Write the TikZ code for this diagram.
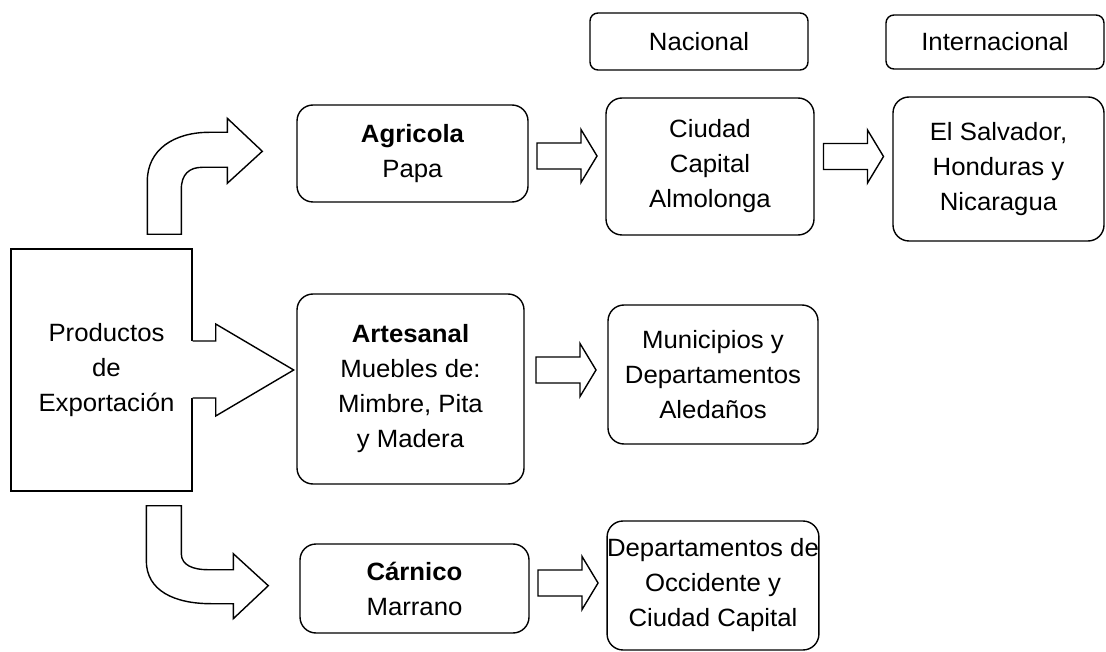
\documentclass[tikz,border=0pt]{standalone}
\usepackage{fontspec}
\setmainfont[FakeStretch=1.03]{Liberation Sans}
\usetikzlibrary{calc}

\newcommand{\blockarr}[3]{%
  \coordinate (bm) at ($(#1.east)!.5!(#1.east -| #2.west)$);
  \draw[arrowline] ($(bm)+(-30,#3-13)$) -- ++(44,0) -- ++(0,-13.5) -- ++(16,26.5) -- ++(-16,26.5) -- ++(0,-13.5) -- ++(-44,0) -- cycle;
}

\begin{document}
\begin{tikzpicture}[x=1pt, y=-1pt, font=\fontsize{25}{35}\selectfont,
  rbox/.style={draw, line width=1.4pt, rounded corners=16pt, align=center, inner sep=0pt},
  tbox/.style={draw, line width=1.4pt, rounded corners=8pt, inner sep=0pt},
  arrowline/.style={line width=1.4pt, fill=white, draw}]
\clip (0,0) rectangle (1106,652);
\node[draw, line width=1.4pt, align=center, minimum width=181pt, minimum height=242pt, inner sep=0pt] (prod) at (101.5,370){\hspace*{10pt}Productos\\\hspace*{10pt}de\\\hspace*{10pt}Exportación};
\node[tbox, minimum width=218pt, minimum height=57pt] (nac) at (699,41.5){Nacional};
\node[tbox, minimum width=218pt, minimum height=54pt] (int) at (995,42){Internacional};
\node[rbox, minimum width=231pt, minimum height=97pt] (agr) at (412.5,153.5){{\bfseries Agricola}\\Papa};
\node[rbox, minimum width=227pt, minimum height=190pt] (art) at (410.5,389){{\bfseries Artesanal}\\Muebles de:\\Mimbre, Pita\\y Madera};
\node[rbox, minimum width=229pt, minimum height=89pt] (car) at (414.5,588.5){{\bfseries Cárnico}\\Marrano};
\node[rbox, minimum width=208pt, minimum height=137pt] (ciu) at (710,166.5){Ciudad\\Capital\\Almolonga};
\node[rbox, minimum width=211pt, minimum height=144pt] (sal) at (998.5,169){El Salvador,\\Honduras y\\Nicaragua};
\node[rbox, minimum width=210pt, minimum height=139pt] (mun) at (713,374.5){Municipios y\\Departamentos\\Aledaños};
\node[rbox, minimum width=210pt, minimum height=129pt] (dep) at (713,585.5){Departamentos de\\Occidente y\\Ciudad Capital};

\draw[arrowline, shift={(prod.north west)}] (137,-14) -- (137,-67) .. controls (137,-99) and (164,-116) .. (199,-116) -- (217,-116) -- (217,-130) -- (252,-97) -- (217,-65) -- (217,-81) -- (192,-81) .. controls (179,-81) and (171,-74) .. (171,-59) -- (171,-14) -- cycle;
\draw[arrowline, shift={(prod.south west)}] (136,14) -- (136,69) .. controls (136,99) and (164,112) .. (201,112) -- (223,112) -- (223,127) -- (258,94) -- (223,62) -- (223,78) -- (197,78) .. controls (184,78) and (171,74) .. (171,62) -- (171,14) -- cycle;
\path[fill=white, shift={(prod.east)}] (-3,-29) rectangle (23,28);
\draw[arrowline, shift={(prod.east)}] (0,-29) -- (23,-29) -- (23,-46) -- (101,0) -- (23,46) -- (23,28) -- (0,28);

\blockarr{agr}{ciu}{2.5}
\blockarr{art}{mun}{-19}
\blockarr{car}{dep}{-5.5}
\blockarr{ciu}{sal}{-10}
\end{tikzpicture}
\end{document}
